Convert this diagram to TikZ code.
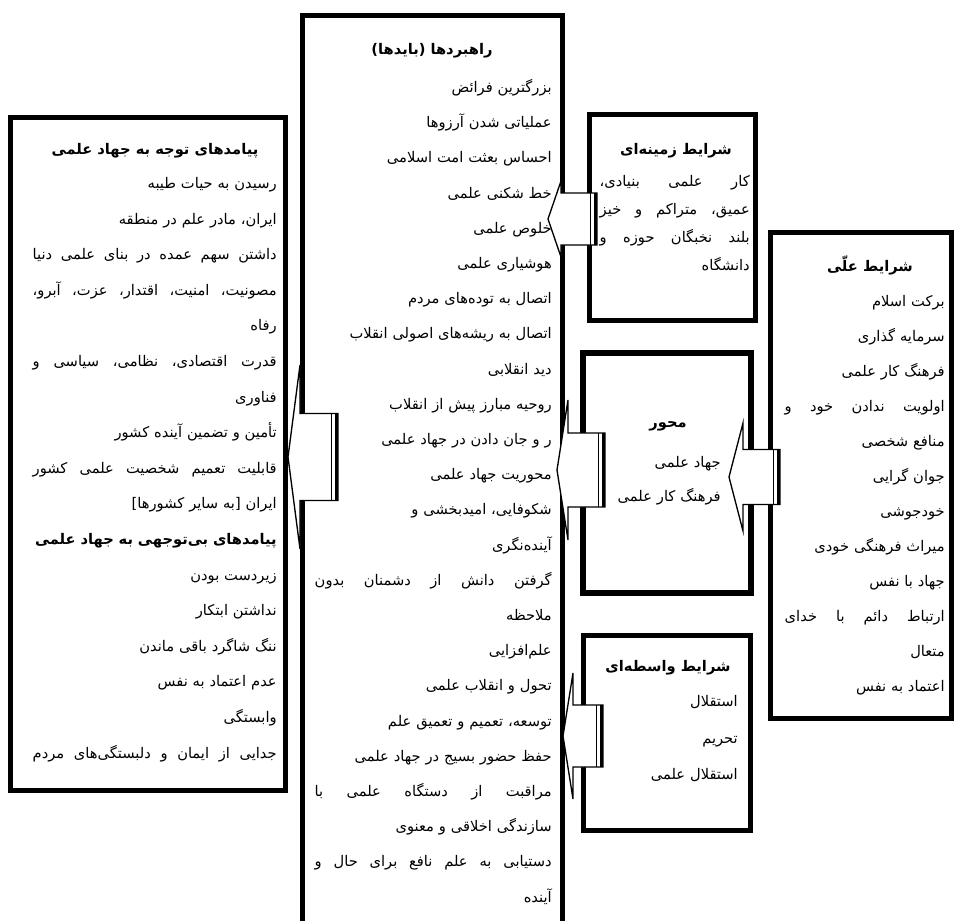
\documentclass[tikz,border=0pt]{standalone}
\usepackage{fontspec}
\usetikzlibrary{calc}
\TeXXeTstate=1
\newfontfamily\arabe[Script=Arabic]{DejaVu Sans}
\def\px{0.75pt}
\newcommand{\rtl}[1]{\beginR #1\endR}
% ligne justifiee : largeur, mots
\ExplSyntaxOn
\NewDocumentCommand{\just}{mm}{
  \seq_set_split:Nnn \l_tmpa_seq {~} {#2}
  \makebox[#1][s]{\seq_use:Nn \l_tmpa_seq {\hfill}}
}
\ExplSyntaxOff
% fleche bloc : pointe, queue, longueur tete, demi-hauteur tete, demi-hauteur corps
\newcommand{\flecheBloc}[5]{%
\draw[fleche] (#1) -- ++(#3,-#4) -- ++(0,#4-#5) -- ($(#2)+(0,-#5)$) -- ($(#2)+(0,#5)$)
  -- ($(#1)+(#3,#5)$) -- ++(0,#4-#5) -- cycle;
\fill ($(#2)+(-3.5,-#5)$) rectangle ($(#2)+(0,#5)$);
\draw[line width=1.1pt] ($(#2)+(-6.5,-#5)$) -- ($(#2)+(-6.5,#5)$);}
\begin{document}
\begin{tikzpicture}[x=0.75pt,y=-0.75pt]
% Styles (MODIFIABLES)
\tikzstyle{boite}=[draw,fill=white,line width=3.75pt,inner sep=0pt]
\tikzstyle{fleche}=[draw,fill=white,line width=1pt]
\tikzstyle{titre}=[font=\arabe\bfseries\fontsize{11}{13}\selectfont,inner sep=0pt,anchor=base]
\tikzstyle{liste}=[font=\arabe\fontsize{11}{26.25}\selectfont,inner sep=0pt,anchor=base east,align=right]
% Largeurs de texte (pt)
\def\LStrat{177.75pt}
\def\LCsq{183pt}
\def\LCont{112.5pt}
\def\LCause{120pt}
\useasboundingbox (0,0) rectangle (954,921);
% Boites
\node[boite,minimum width=275*\px,minimum height=672.5*\px] (Csq) at (148.25,453.75) {};
\node[boite,minimum width=260*\px,minimum height=929.5*\px] (Strat) at (432.5,480.25) {};
\node[boite,minimum width=166*\px,minimum height=206*\px] (Cont) at (672.5,217.5) {};
\node[boite,line width=4.9pt,minimum width=168*\px,minimum height=240*\px] (Axe) at (667,473) {};
\node[boite,minimum width=167*\px,minimum height=195.5*\px] (Inter) at (667,732.75) {};
\node[boite,minimum width=180.5*\px,minimum height=485.5*\px] (Cause) at (860.75,475.25) {};
% Fleches
\coordinate (Pcont) at (548,219);  \coordinate (Qcont) at (597,219);
\coordinate (Paxe) at (557,470);   \coordinate (Qaxe) at (605,470);
\coordinate (Pinter) at (563,736); \coordinate (Qinter) at (603,736);
\coordinate (Pcause) at (729,477); \coordinate (Qcause) at (780,477);
\coordinate (Pstrat) at (288,457); \coordinate (Qstrat) at (338,457);
\flecheBloc{Pcont}{Qcont}{13}{38}{26}
\flecheBloc{Paxe}{Qaxe}{11}{70}{37}
\flecheBloc{Pinter}{Qinter}{10}{63}{31}
\flecheBloc{Pcause}{Qcause}{14}{54}{27.5}
\flecheBloc{Pstrat}{Qstrat}{12}{92}{43.5}
% Titres
\node[titre] (StratT) at (432,54.5) {\rtl{راهبردها (بایدها)}};
\node[titre] (CsqT) at (155,154.5) {\rtl{پیامدهای توجه به جهاد علمی}};
\node[titre] (ContT) at (676,154.5) {\rtl{شرایط زمینه‌ای}};
\node[titre] (AxeT) at (668,427.5) {\rtl{محور}};
\node[titre] (InterT) at (668,671.5) {\rtl{شرایط واسطه‌ای}};
\node[titre] (CauseT) at (870,271.5) {\rtl{شرایط علّی}};
% Textes
\node[liste,text width=\LStrat,font=\arabe\fontsize{11}{26.4}\selectfont] (StratL) at (552,92.5) {\rtl{بزرگترین فرائض}\\ \rtl{عملیاتی شدن آرزوها}\\
 \rtl{احساس بعثت امت اسلامی}\\ \rtl{خط شکنی علمی}\\ \rtl{خلوص علمی}\\ \rtl{هوشیاری علمی}\\
 \rtl{اتصال به توده‌های مردم}\\ \rtl{اتصال به ریشه‌های اصولی انقلاب}\\ \rtl{دید انقلابی}\\
 \rtl{روحیه مبارز پیش از انقلاب}\\ \rtl{ر و جان دادن در جهاد علمی}\\ \rtl{محوریت جهاد علمی}\\
 \rtl{شکوفایی، امیدبخشی و}\\ \rtl{آینده‌نگری}\\ \just{\LStrat}{\beginR گرفتن دانش از دشمنان بدون\endR}\\ \rtl{ملاحظه}\\
 \rtl{علم‌افزایی}\\ \rtl{تحول و انقلاب علمی}\\ \rtl{توسعه، تعمیم و تعمیق علم}\\
 \rtl{حفظ حضور بسیج در جهاد علمی}\\ \just{\LStrat}{\beginR مراقبت از دستگاه علمی با\endR}\\ \rtl{سازندگی اخلاقی و معنوی}\\
 \just{\LStrat}{\beginR دستیابی به علم نافع برای حال و\endR}\\ \rtl{آینده}};
\node[liste,text width=\LCsq,font=\arabe\fontsize{11}{26.7}\selectfont] (CsqL) at (277,188.5) {\rtl{رسیدن به حیات طیبه}\\ \rtl{ایران، مادر علم در منطقه}\\
 \just{\LCsq}{\beginR داشتن سهم عمده در بنای علمی دنیا\endR}\\ \just{\LCsq}{\beginR مصونیت، امنیت، اقتدار، عزت، آبرو،\endR}\\ \rtl{رفاه}\\
 \just{\LCsq}{\beginR قدرت اقتصادی، نظامی، سیاسی و\endR}\\ \rtl{فناوری}\\ \rtl{تأمین و تضمین آینده کشور}\\
 \just{\LCsq}{\beginR قابلیت تعمیم شخصیت علمی کشور\endR}\\ \rtl{ایران [به سایر کشورها]}\\
 \rtl{\textbf{پیامدهای بی‌توجهی به جهاد علمی}}\\ \rtl{زیردست بودن}\\ \rtl{نداشتن ابتکار}\\
 \rtl{ننگ شاگرد باقی ماندن}\\ \rtl{عدم اعتماد به نفس}\\ \rtl{وابستگی}\\ \just{\LCsq}{\beginR جدایی از ایمان و دلبستگی‌های مردم\endR}};
\node[liste,text width=\LCont,font=\arabe\fontsize{11}{21}\selectfont] (ContL) at (750,186.5) {\just{\LCont}{\beginR کار علمی بنیادی،\endR}\\
 \just{\LCont}{\beginR عمیق، متراکم و خیز\endR}\\ \just{\LCont}{\beginR بلند نخبگان حوزه و\endR}\\ \rtl{دانشگاه}};
\node[liste,text width=110*\px,font=\arabe\fontsize{11}{25.5}\selectfont] (AxeL) at (721,467.5) {\rtl{جهاد علمی}\\ \rtl{فرهنگ کار علمی}};
\node[liste,text width=110*\px,font=\arabe\fontsize{11}{27.4}\selectfont] (InterL) at (738,706.5) {\rtl{استقلال}\\ \rtl{تحریم}\\ \rtl{استقلال علمی}};
\node[liste,text width=\LCause] (CauseL) at (945,306.5) {\rtl{برکت اسلام}\\ \rtl{سرمایه گذاری}\\ \rtl{فرهنگ کار علمی}\\
 \just{\LCause}{\beginR اولویت ندادن خود و\endR}\\ \rtl{منافع شخصی}\\ \rtl{جوان گرایی}\\ \rtl{خودجوشی}\\ \rtl{میراث فرهنگی خودی}\\
 \rtl{جهاد با نفس}\\ \just{\LCause}{\beginR ارتباط دائم با خدای\endR}\\ \rtl{متعال}\\ \rtl{اعتماد به نفس}};
\end{tikzpicture}
\end{document}
